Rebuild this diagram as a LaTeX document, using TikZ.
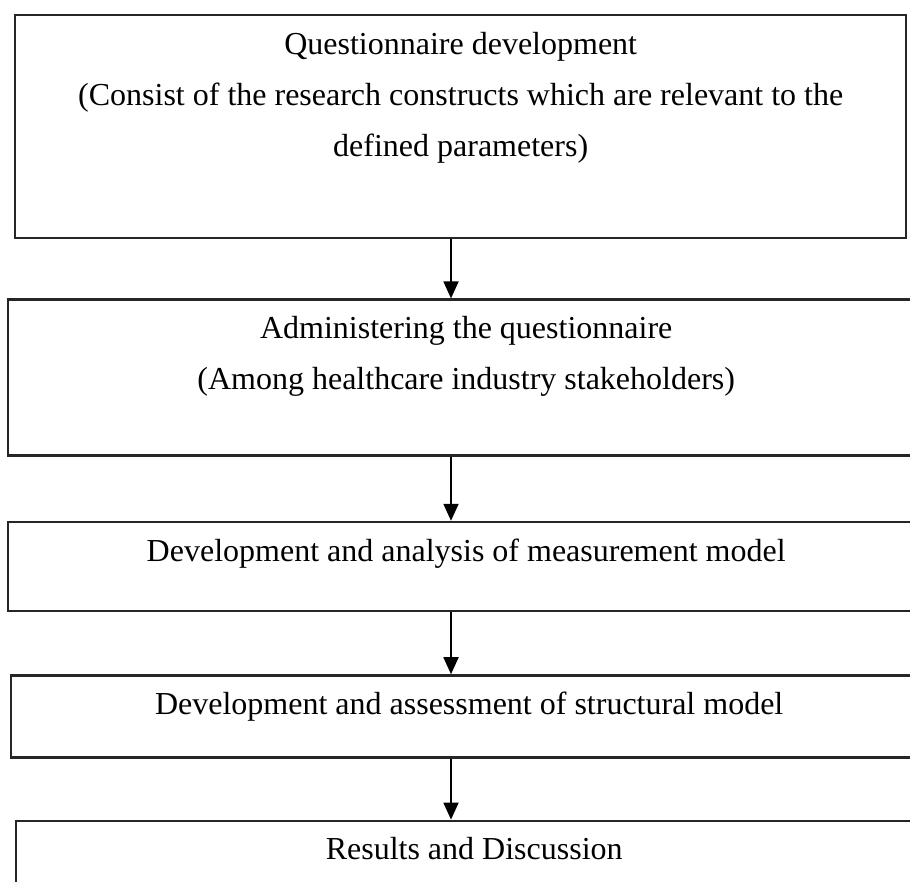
\documentclass[tikz,border=0pt]{standalone}
\usepackage{fontspec}
\setmainfont{Liberation Serif}
\usepackage{tikz}
\usetikzlibrary{positioning, calc, arrows.meta}
\tikzset{>={Triangle[width=15pt, length=17pt]}}
\tikzset{stage/.style={draw=black!85, line width=2.4pt, inner sep=0pt, anchor=north west,
    font=\fontsize{32}{51}\selectfont}}
% top aligned box text: height, width, lines
\newcommand{\stagetext}[3]{\parbox[c][#1][t]{#2}{\centering\rule{0pt}{39pt}#3}}

\begin{document}
\begin{tikzpicture}
    [x=1pt, y=-1pt,
      flow/.style={->, line width=1.8pt}]

    \useasboundingbox (0,0) rectangle (910,881);

    \node[stage] (Q) at (14,14)
    {\stagetext{223pt}{891pt}{Questionnaire development \\ (Consist of the research constructs which are relevant to the \\ defined parameters)}};

    \node[stage, below=59pt of Q.south west, anchor=north west, xshift=-7pt] (A)
    {\stagetext{156pt}{916pt}{Administering the questionnaire \\ (Among healthcare industry stakeholders)}};

    \node[stage, below=64pt of A.south west, anchor=north west] (M)
    {\stagetext{89pt}{916pt}{Development and analysis of measurement model}};

    \node[stage, below=62pt of M.south west, anchor=north west, xshift=3pt] (S)
    {\stagetext{82pt}{916pt}{Development and assessment of structural model}};

    \node[stage, below=61pt of S.south west, anchor=north west, xshift=5pt] (R)
    {\stagetext{120pt}{916pt}{Results and Discussion}};

    \coordinate (axis) at (451,0);

    \draw[flow] (Q.south -| axis) -- (A.north -| axis);
    \draw[flow] (A.south -| axis) -- (M.north -| axis);
    \draw[flow] (M.south -| axis) -- (S.north -| axis);
    \draw[flow] (S.south -| axis) -- (R.north -| axis);
  \end{tikzpicture}
\end{document}
